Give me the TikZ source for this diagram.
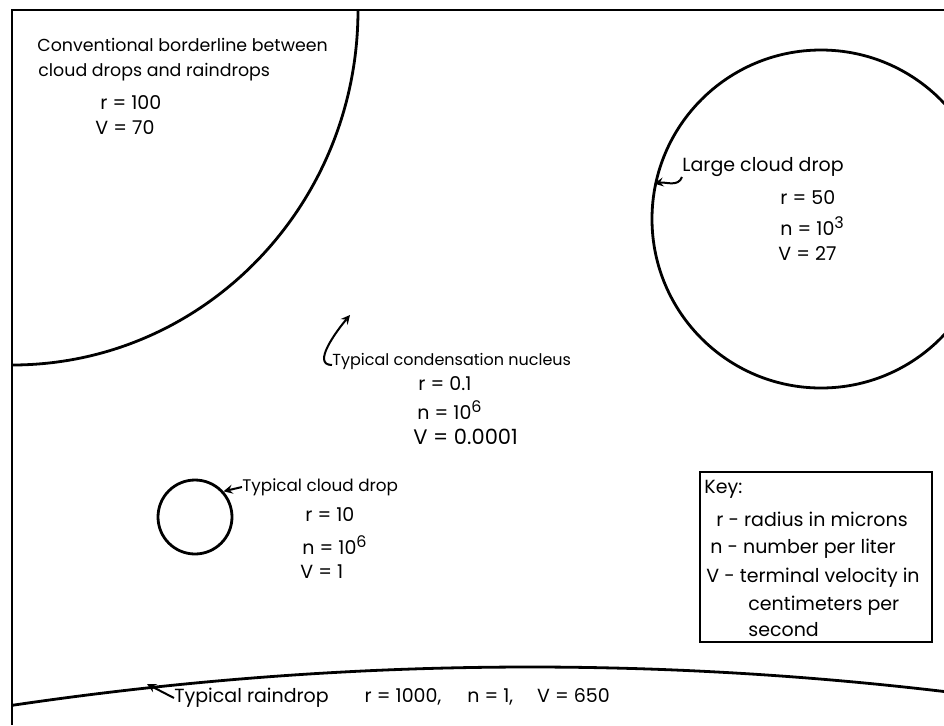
\documentclass[tikz,border=0pt]{standalone}
\usepackage{fontspec}
\setmainfont{Poppins}
\usepackage{tikz}
\usetikzlibrary{calc,arrows.meta}

\newcommand{\pw}[1]{\raisebox{0.75ex}{\fontsize{8}{8}\selectfont #1}}

\tikzset{
  lbl/.style={anchor=west,inner sep=0pt,font=\fontsize{9.5}{11}\selectfont},
  drop/.style={draw,circle,line width=1.4pt,inner sep=0pt},
  lead/.style={->,line width=1pt}
}

\begin{document}
\begin{tikzpicture}[x=0.5pt,y=-0.5pt,>=stealth]
			\useasboundingbox (0,0) rectangle (944,725);
			\clip (0,0) rectangle (944,725);
			
			% frame
			\draw[line width=1.3pt] (944,10) -- (12,10) -- (12,725);
			
			% borderline between cloud drops and raindrops
			\draw[line width=1.4pt] (358,10) arc[start angle=0,end angle=90,x radius=346,y radius=355];
			\node[lbl,font=\fontsize{8.7}{10}\selectfont] (b1) at (37,45) {Conventional borderline between};
			\node[lbl,font=\fontsize{8.7}{10}\selectfont] (b2) at (38,72) {cloud drops and raindrops};
			\node[lbl] (b3) at (100,103) {r = 100};
			\node[lbl] (b4) at (95,128) {V = 70};
			
			% large cloud drop
			\node[drop,minimum size=169pt] (lg) at (821,219) {};
			\node[lbl] (t1) at (682,167) {Large cloud drop};
			\node[lbl] (t2) at (780,198) {r = 50};
			\node[lbl] (t3) at (780,226) {n = 10\pw{3}};
			\node[lbl] (t4) at (778,253) {V = 27};
			\draw[lead] (t1.south west) to[out=250,in=10] (lg.168);
			
			% condensation nucleus
			\coordinate (nuc) at (350,315);
			\node[lbl,font=\fontsize{8}{9}\selectfont] (t5) at (332,361) {Typical condensation nucleus};
			\node[lbl] (t6) at (418,384) {r = 0.1};
			\node[lbl] (t7) at (417,410) {n = 10\pw{6}};
			\node[lbl,font=\fontsize{10.5}{12}\selectfont] (t8) at (413,437) {V = 0.0001};
			\draw[lead] ([yshift=-2pt]t5.west) to[out=180,in=230] (nuc);
			
			% cloud drop
			\node[drop,minimum size=37pt] (sd) at (195,517) {};
			\node[lbl,font=\fontsize{8.4}{10}\selectfont] (t9) at (242,487) {Typical cloud drop};
			\node[lbl] (t10) at (305,515) {r = 10};
			\node[lbl] (t11) at (302,545) {n = 10\pw{6}};
			\node[lbl] (t12) at (300,572) {V = 1};
			\draw[lead] (t9.west) -- (sd.42);
			
			% key
			\draw[line width=1pt] (700,472) rectangle (932,642);
			\node[lbl] (k1) at (704,489) {Key:};
			\node[lbl] (k2) at (716,519) {r - radius in microns};
			\node[lbl] (k3) at (710,549) {n - number per liter};
			\node[lbl] (k4) at (706,578) {V - terminal velocity in};
			\node[lbl] (k5) at (748,606) {centimeters per};
			\node[lbl] (k6) at (748,630) {second};
			
			% raindrop
			\draw[line width=1.4pt] plot[domain=12:944,samples=80] (\x,{667+1.4286*pow((\x-530)/100,2)});
			\coordinate (rain) at (147,684);
			\node[lbl] (t13) at (174,698) {Typical raindrop\hspace{18pt}r = 1000,\hspace{13pt}n = 1,\hspace{12pt}V = 650};
			\draw[lead] (t13.west) -- (rain);

		\end{tikzpicture}
\end{document}
